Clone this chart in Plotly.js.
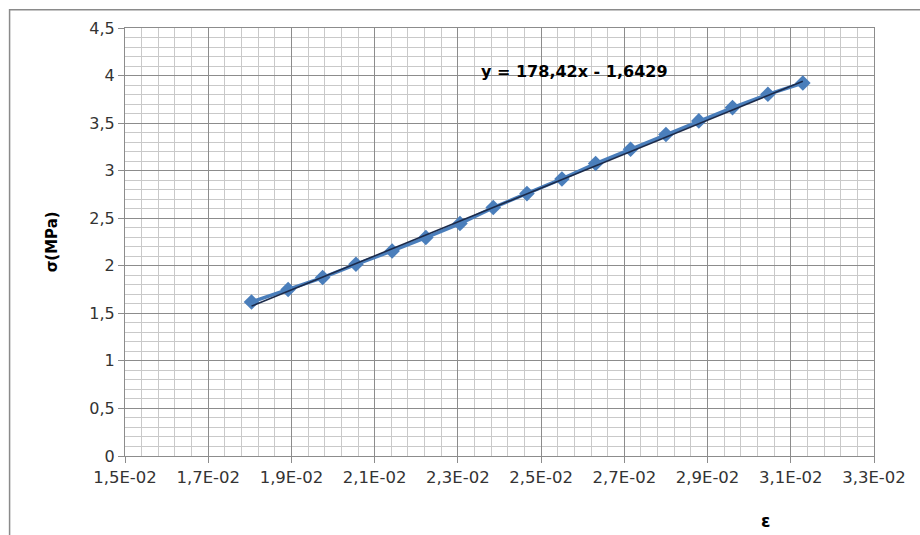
<!DOCTYPE html>
<html>
<head>
<meta charset="utf-8">
<script src="https://cdn.plot.ly/plotly-3.0.1.min.js"></script>
<style>
  html, body { margin: 0; padding: 0; background: #ffffff; }
  #chart { width: 920px; height: 535px; }
</style>
</head>
<body>
<div id="chart"></div>
<script>
// Strain (ε) and stress σ (MPa) measurements
const strain = [0.01804, 0.01892, 0.01975, 0.02055, 0.02142, 0.02223, 0.02305, 0.02385,
                0.02466, 0.02550, 0.02631, 0.02715, 0.02800, 0.02879, 0.02960, 0.03045, 0.03129];
const stress = [1.619, 1.750, 1.876, 2.016, 2.156, 2.297, 2.444, 2.612,
                2.759, 2.913, 3.075, 3.225, 3.380, 3.523, 3.663, 3.803, 3.922];

// Linear trendline coefficients, as printed on the chart
const slope = 178.42;
const intercept = -1.6429;
const equationText = 'y = 178,42x - 1,6429';

// Axis tick positions and labels
const xTickVals = [0.015, 0.017, 0.019, 0.021, 0.023, 0.025, 0.027, 0.029, 0.031, 0.033];
const xTickText = ['1,5E-02', '1,7E-02', '1,9E-02', '2,1E-02', '2,3E-02',
                   '2,5E-02', '2,7E-02', '2,9E-02', '3,1E-02', '3,3E-02'];
const yTickVals = [0, 0.5, 1, 1.5, 2, 2.5, 3, 3.5, 4, 4.5];
const yTickText = ['0', '0,5', '1', '1,5', '2', '2,5', '3', '3,5', '4', '4,5'];

// Trendline spans the measured strain range
const trendX = [Math.min(...strain), Math.max(...strain)];
const trendY = trendX.map(x => slope * x + intercept);

const font = 'DejaVu Sans, Open Sans, sans-serif';
const majorGrid = '#8c8c8c';
const minorGrid = '#c9c9c9';

const data = [
  {
    x: strain, y: stress, type: 'scatter', mode: 'lines+markers',
    line: { color: '#4a7ebb', width: 3.5 },
    marker: { symbol: 'diamond', size: 12, color: '#4a7ebb' },
    hoverinfo: 'x+y'
  },
  {
    x: trendX, y: trendY, type: 'scatter', mode: 'lines',
    line: { color: '#1b2a4a', width: 1.6 },
    hoverinfo: 'skip'
  }
];

const layout = {
  width: 920, height: 535,
  margin: { l: 125, r: 46, t: 28, b: 79 },
  paper_bgcolor: '#ffffff', plot_bgcolor: '#ffffff',
  showlegend: false,
  font: { family: font, size: 15, color: '#262626' },
  xaxis: {
    range: [0.015, 0.033], tickmode: 'array', tickvals: xTickVals, ticktext: xTickText,
    showgrid: true, gridcolor: majorGrid, gridwidth: 1,
    minor: { tickmode: 'linear', tick0: 0.015, dtick: 0.0004, showgrid: true, gridcolor: minorGrid, gridwidth: 1, ticks: '' },
    ticks: 'outside', ticklen: 6, tickcolor: majorGrid,
    showline: true, linecolor: majorGrid, mirror: true,
    zeroline: false, tickfont: { family: font, size: 16.5, color: '#333333' }
  },
  yaxis: {
    range: [0, 4.5], tickmode: 'array', tickvals: yTickVals, ticktext: yTickText,
    showgrid: true, gridcolor: majorGrid, gridwidth: 1,
    minor: { tickmode: 'linear', tick0: 0, dtick: 0.1, showgrid: true, gridcolor: minorGrid, gridwidth: 1, ticks: '' },
    ticks: 'outside', ticklen: 6, tickcolor: majorGrid,
    showline: true, linecolor: majorGrid, mirror: true,
    zeroline: false, tickfont: { family: font, size: 16, color: '#333333' }
  },
  annotations: [
    {
      text: equationText, xref: 'paper', yref: 'paper',
      x: 0.472, y: 0.899, xanchor: 'left', yanchor: 'middle', showarrow: false,
      font: { family: font, size: 16, color: '#000000', weight: 'bold' }
    },
    {
      text: 'σ(MPa)', xref: 'paper', yref: 'paper',
      x: -0.097, y: 0.5, xanchor: 'center', yanchor: 'middle', textangle: -90, showarrow: false,
      font: { family: font, size: 15, color: '#000000', weight: 'bold' }
    },
    {
      text: 'ε', xref: 'paper', yref: 'paper',
      x: 0.855, y: -0.152, xanchor: 'center', yanchor: 'middle', showarrow: false,
      font: { family: font, size: 17, color: '#000000', weight: 'bold' }
    }
  ],
  shapes: [
    {
      type: 'path', xref: 'paper', yref: 'paper',
      path: 'M -0.1541 -0.25 L -0.1541 1.0425 L 1.07 1.0425',
      line: { color: '#8a8a8a', width: 1.5 }
    }
  ]
};

Plotly.newPlot('chart', data, layout, { staticPlot: true, displayModeBar: false });
</script>
</body>
</html>
